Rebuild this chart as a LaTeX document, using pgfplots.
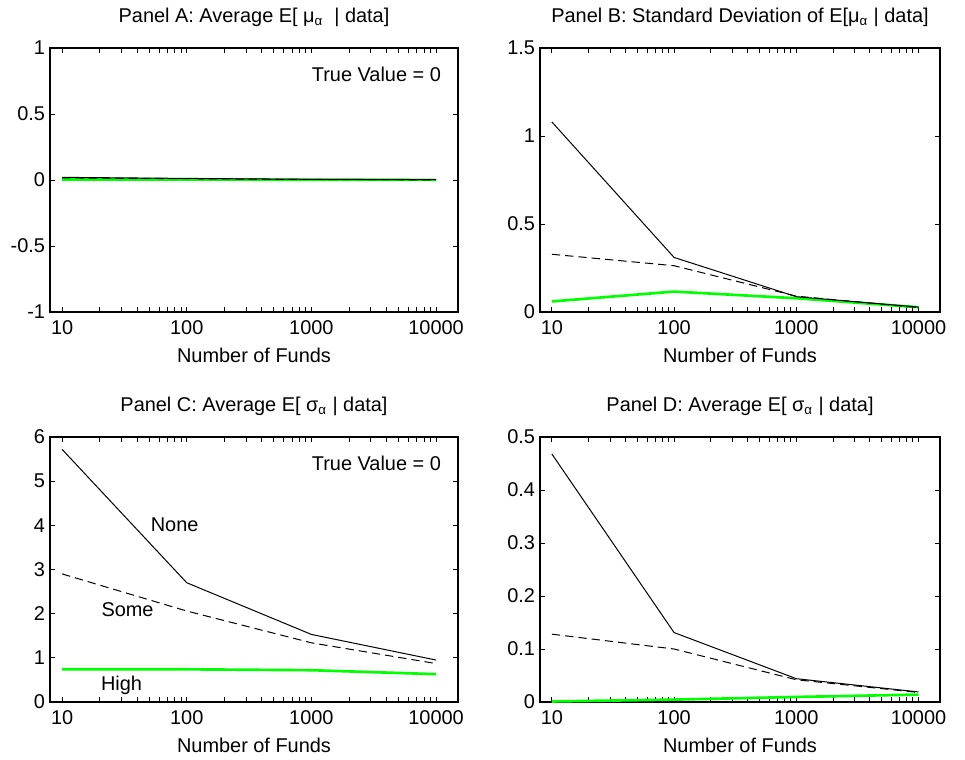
\documentclass[border=0pt]{standalone}
\usepackage{fontspec}
\setmainfont{Liberation Sans}
\usepackage{pgfplots}
\pgfplotsset{compat=1.18}

\definecolor{mgreen}{rgb}{0,1,0}

\tikzset{lab/.style={anchor=base, inner sep=0pt}}

\pgfplotsset{
  mypanel/.style={
    scale only axis,
    xmin=8, xmax=15000,
    xtick={10,100,1000,10000},
    xticklabels={10,100,1000,10000},
    minor xtick={},
    tick align=inside,
    major tick length=3bp,
    xtick pos=both, ytick pos=both,
    axis line style={line width=0.8bp},
    every tick/.style={black, line width=0.5bp},
    font=\fontsize{12}{14}\selectfont,
    /pgf/number format/assume math mode=true,
    xticklabel style={yshift=-1.5bp},
    yticklabel style={xshift=0.5bp},
    title style={at={(0.5,1)}, anchor=south, yshift=3bp},
    xlabel={Number of Funds},
    xlabel style={at={(0.5,0)}, anchor=north, yshift=-18bp},
    clip=false,
  },
  lnone/.style={black, line width=0.6bp},
  lsome/.style={black, line width=0.6bp, dash pattern=on 5bp off 3bp},
  lhigh/.style={mgreen, line width=1.6bp},
}

\begin{document}
\begin{tikzpicture}
\path[use as bounding box] (0,0) rectangle (579bp,456bp);

% Panel A
\begin{semilogxaxis}[mypanel, at={(30bp,268.8bp)}, anchor=south west,
  width=244.8bp, height=158.4bp,
  ymin=-1, ymax=1, ytick={-1,-0.5,0,0.5,1},
  yticklabels={-1,-0.5,0,0.5,1},
  title={Panel A: Average E[ μ\textsubscript{α}\ \ | data]}]
\addplot[lhigh] coordinates {(10,0.004) (100,0.003) (1000,0.002) (10000,0.001)};
\addplot[lsome] coordinates {(10,0.016) (100,0.010) (1000,0.004) (10000,0.001)};
\addplot[lnone] coordinates {(10,0.020) (100,0.012) (1000,0.005) (10000,0.002)};
\node[lab, anchor=base east] at (axis cs:11000,0.745) {True Value = 0};
\end{semilogxaxis}

% Panel B
\begin{semilogxaxis}[mypanel, at={(324bp,268.8bp)}, anchor=south west,
  width=240bp, height=158.4bp,
  ymin=0, ymax=1.5, ytick={0,0.5,1,1.5},
  yticklabels={0,0.5,1,1.5},
  title={Panel B: Standard Deviation of E[μ\textsubscript{α} | data]}]
\addplot[lhigh] coordinates {(10,0.060) (100,0.116) (1000,0.078) (10000,0.027)};
\addplot[lsome] coordinates {(10,0.328) (100,0.263) (1000,0.090) (10000,0.025)};
\addplot[lnone] coordinates {(10,1.080) (100,0.310) (1000,0.087) (10000,0.028)};
\end{semilogxaxis}

% Panel C
\begin{semilogxaxis}[mypanel, at={(30bp,34.8bp)}, anchor=south west,
  width=244.8bp, height=159bp,
  ymin=0, ymax=6, ytick={0,1,2,3,4,5,6},
  title={Panel C: Average E[ σ\textsubscript{α} | data]}]
\addplot[lhigh] coordinates {(10,0.74) (100,0.74) (1000,0.72) (10000,0.63)};
\addplot[lsome] coordinates {(10,2.90) (100,2.06) (1000,1.34) (10000,0.87)};
\addplot[lnone] coordinates {(10,5.72) (100,2.70) (1000,1.53) (10000,0.95)};
\node[lab, anchor=base east] at (axis cs:11000,5.24) {True Value = 0};
\node[lab] at (axis cs:80,3.85) {None};
\node[lab] at (axis cs:33.5,1.94) {Some};
\node[lab] at (axis cs:30,0.25) {High};
\end{semilogxaxis}

% Panel D
\begin{semilogxaxis}[mypanel, at={(324bp,34.8bp)}, anchor=south west,
  width=240bp, height=159bp,
  ymin=0, ymax=0.5, ytick={0,0.1,0.2,0.3,0.4,0.5},
  yticklabels={0,0.1,0.2,0.3,0.4,0.5},
  title={Panel D: Average E[ σ\textsubscript{α} | data]}]
\addplot[lhigh] coordinates {(10,0.001) (100,0.0045) (1000,0.0095) (10000,0.014)};
\addplot[lsome] coordinates {(10,0.128) (100,0.100) (1000,0.042) (10000,0.018)};
\addplot[lnone] coordinates {(10,0.468) (100,0.131) (1000,0.044) (10000,0.019)};
\end{semilogxaxis}
\end{tikzpicture}
\end{document}
